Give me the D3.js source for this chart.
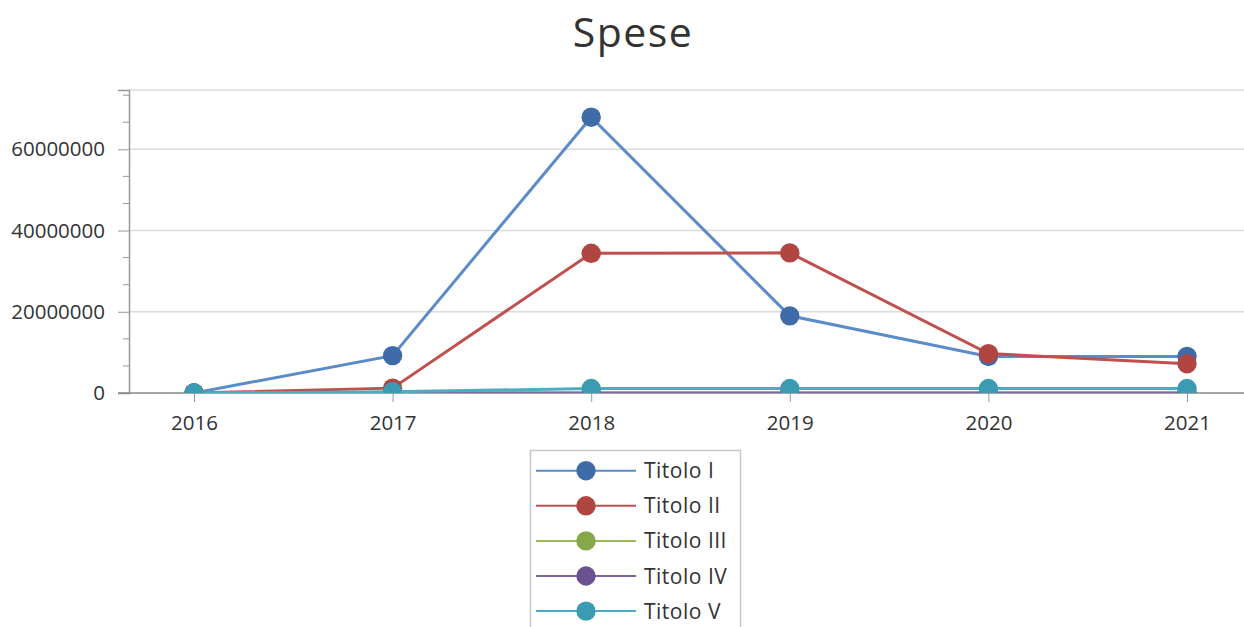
<!DOCTYPE html>
<html>
<head>
<meta charset="utf-8">
<script src="https://cdn.jsdelivr.net/npm/d3@7"></script>
<style>
  body { margin: 0; background: #fff; }
  svg { display: block; font-family: "Open Sans", "DejaVu Sans", sans-serif; }
</style>
</head>
<body>
<script>
var years = ['2016', '2017', '2018', '2019', '2020', '2021'];
var seriesNames = ['Titolo I', 'Titolo II', 'Titolo III', 'Titolo IV', 'Titolo V'];
var titolo1 = [0, 9200000, 67900000, 19000000, 9000000, 9000000];
var titolo2 = [0, 1200000, 34400000, 34500000, 9700000, 7200000];
var titolo3 = [0, 0, 0, 0, 0, 0];
var titolo4 = [0, 0, 0, 0, 0, 0];
var titolo5 = [0, 300000, 1100000, 1100000, 1100000, 1100000];
var yTicks = [0, 20000000, 40000000, 60000000];
var lineColors = ['#5b8bc9', '#c0504d', '#9bbb59', '#8064a2', '#4bacc6'];
var dotColors = ['#3f6ba8', '#b04542', '#86a84a', '#6a5192', '#3a9bb3'];

var allSeries = [titolo1, titolo2, titolo3, titolo4, titolo5];

var width = 1244, height = 627;
var plot = { left: 129, right: 1244, top: 90, bottom: 393 };
var fontFamily = '"Open Sans", "DejaVu Sans", sans-serif';

var svg = d3.select('body').append('svg')
  .attr('width', width)
  .attr('height', height);

// title
svg.append('text')
  .attr('x', 633)
  .attr('y', 47)
  .attr('text-anchor', 'middle')
  .style('font-size', '41px')
  .style('letter-spacing', '1.5px')
  .style('fill', '#333')
  .text('Spese');

var xScale = d3.scalePoint()
  .domain(years)
  .range([194, 1187]);

var yScale = d3.scaleLinear()
  .domain([0, 74600000])
  .range([plot.bottom, plot.top]);

// gridlines
svg.append('g')
  .selectAll('line')
  .data(yTicks.slice(1).concat([74600000]))
  .enter().append('line')
  .attr('x1', plot.left).attr('x2', plot.right)
  .attr('y1', function(d) { return yScale(d) })
  .attr('y2', function(d) { return yScale(d) })
  .attr('stroke', '#dcdcdc')
  .attr('stroke-width', 1.5);

// y axis
var yAxis = d3.axisLeft(yScale)
  .tickValues(yTicks)
  .tickFormat(d3.format('d'))
  .tickSize(11)
  .tickPadding(13);
var yGroup = svg.append('g')
  .attr('transform', 'translate(' + plot.left + ',0)')
  .call(yAxis)
  .attr('font-family', fontFamily);
yGroup.select('.domain').attr('stroke', '#999').attr('stroke-width', 1.5);
yGroup.selectAll('.tick line').attr('stroke', '#999');
yGroup.selectAll('.tick text').style('font-size', '20.5px').style('fill', '#333');

// minor ticks
var minor = d3.range(0, 74600000, 20000000 / 3).filter(function(v, i) { return i % 3 != 0 });
svg.append('g')
  .selectAll('line')
  .data(minor)
  .enter().append('line')
  .attr('x1', plot.left - 6).attr('x2', plot.left)
  .attr('y1', function(d) { return yScale(d) })
  .attr('y2', function(d) { return yScale(d) })
  .attr('stroke', '#999');

// x axis
var xAxis = d3.axisBottom(xScale)
  .tickSize(9);
var xGroup = svg.append('g')
  .attr('transform', 'translate(0,' + plot.bottom + ')')
  .call(xAxis)
  .attr('font-family', fontFamily);
xGroup.select('.domain').remove();
xGroup.append('line')
  .attr('x1', plot.left - 11).attr('x2', plot.right)
  .attr('stroke', '#888').attr('stroke-width', 1.5);
xGroup.selectAll('.tick line').attr('stroke', '#999');
xGroup.selectAll('.tick text')
  .attr('y', 37).attr('dy', null)
  .style('font-size', '20.5px').style('fill', '#333');

// series
svg.append('clipPath').attr('id', 'plotclip')
  .append('rect')
  .attr('x', plot.left).attr('y', plot.top - 20)
  .attr('width', plot.right - plot.left)
  .attr('height', plot.bottom - plot.top + 20);

var line = d3.line()
  .x(function(d, i) { return xScale(years[i]) })
  .y(function(d) { return yScale(d) });

var seriesGroup = svg.append('g').attr('clip-path', 'url(#plotclip)');
allSeries.forEach(function(values, s) {
  var g = seriesGroup.append('g');
  g.append('path')
    .datum(values)
    .attr('d', line)
    .attr('fill', 'none')
    .attr('stroke', lineColors[s])
    .attr('stroke-width', 3);
  g.selectAll('circle')
    .data(values)
    .enter().append('circle')
    .attr('cx', function(d, i) { return xScale(years[i]) })
    .attr('cy', function(d) { return yScale(d) })
    .attr('r', 9.7)
    .attr('fill', dotColors[s]);
});

// legend
var legend = svg.append('g');
legend.append('rect')
  .attr('x', 530.5).attr('y', 450.5)
  .attr('width', 210).attr('height', 200)
  .attr('fill', '#fff')
  .attr('stroke', '#c8c8c8')
  .attr('stroke-width', 1.5);

var rows = legend.selectAll('g.row')
  .data(seriesNames)
  .enter().append('g')
  .attr('class', 'row')
  .attr('transform', function(d, i) { return 'translate(0,' + (470.7 + i * 35.1) + ')' });
rows.append('line')
  .attr('x1', 536).attr('x2', 636)
  .attr('stroke', function(d, i) { return lineColors[i] })
  .attr('stroke-width', 2);
rows.append('circle')
  .attr('cx', 586).attr('r', 9.7)
  .attr('fill', function(d, i) { return dotColors[i] });
rows.append('text')
  .attr('x', 644)
  .attr('y', 7.5)
  .style('font-size', '21px')
  .style('letter-spacing', '0.5px')
  .style('fill', '#333')
  .text(function(d) { return d });
</script>
</body>
</html>
